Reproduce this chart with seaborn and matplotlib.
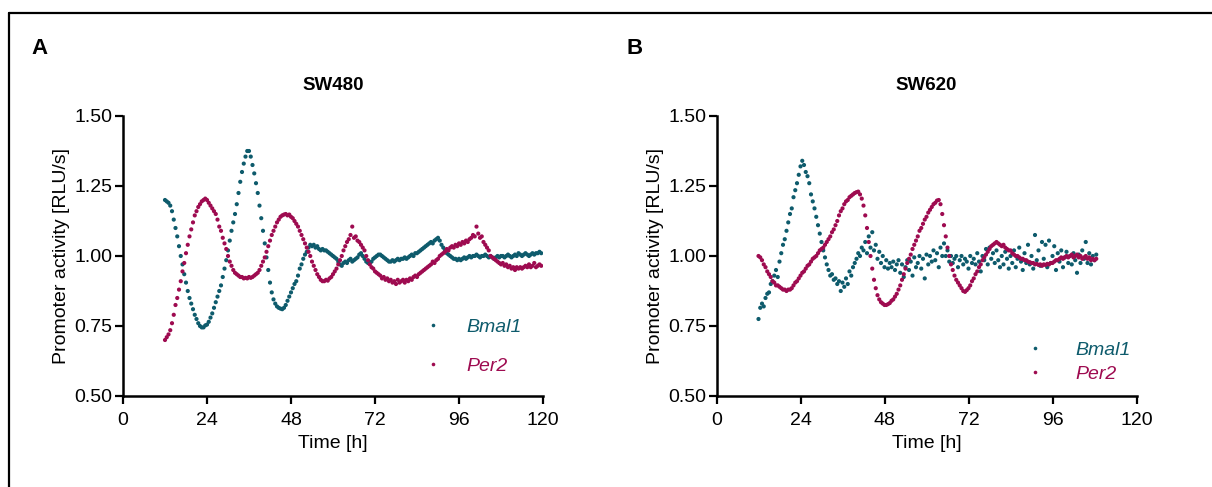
import numpy as np
import pandas as pd
import matplotlib
matplotlib.use("Agg")
import matplotlib.pyplot as plt
from matplotlib.lines import Line2D
import seaborn as sns

# ---------------- data ----------------
step = 0.5
time_a = np.arange(12.0, 119.75, step)   # SW480 sampling grid (h)
time_b = np.arange(12.0, 108.75, step)   # SW620 sampling grid (h)

bmal1_sw480 = [
    1.20, 1.195, 1.19, 1.18, 1.16, 1.13, 1.10, 1.07, 1.035, 1.00,
    0.97, 0.935, 0.905, 0.875, 0.85, 0.83, 0.81, 0.79, 0.775, 0.76,
    0.75, 0.745, 0.745, 0.752, 0.755, 0.765, 0.78, 0.795, 0.815, 0.835,
    0.855, 0.875, 0.895, 0.925, 0.955, 0.985, 1.02, 1.055, 1.09, 1.12,
    1.15, 1.185, 1.225, 1.265, 1.30, 1.33, 1.355, 1.375, 1.375, 1.355,
    1.325, 1.295, 1.26, 1.225, 1.18, 1.135, 1.09, 1.045, 0.995, 0.95,
    0.905, 0.87, 0.845, 0.83, 0.82, 0.815, 0.812, 0.81, 0.815, 0.825,
    0.84, 0.855, 0.87, 0.885, 0.90, 0.91, 0.93, 0.955, 0.97, 0.99,
    1.005, 1.015, 1.03, 1.04, 1.035, 1.04, 1.03, 1.035, 1.025, 1.02,
    1.025, 1.02, 1.02, 1.015, 1.01, 1.005, 1.0, 0.995, 0.99, 0.98,
    0.97, 0.965, 0.975, 0.98, 0.975, 0.985, 0.99, 0.98, 0.985, 0.99,
    0.995, 1.005, 1.01, 1.0, 0.99, 0.98, 0.975, 0.975, 0.98, 0.99,
    0.995, 1.0, 1.005, 1.005, 1.0, 0.995, 0.99, 0.985, 0.98, 0.98,
    0.985, 0.98, 0.985, 0.99, 0.985, 0.99, 0.99, 0.995, 0.99, 0.995,
    1.0, 1.005, 1.0, 1.01, 1.01, 1.015, 1.02, 1.025, 1.03, 1.035,
    1.04, 1.045, 1.05, 1.045, 1.055, 1.06, 1.065, 1.055, 1.04, 1.03,
    1.02, 1.01, 1.005, 1.0, 0.995, 0.99, 0.99, 0.985, 0.99, 0.985,
    0.99, 0.995, 0.99, 0.995, 1.0, 0.995, 1.0, 1.0, 1.005, 1.0,
    0.995, 1.0, 1.0, 1.005, 1.0, 0.995, 1.0, 0.995, 0.99, 0.995,
    1.0, 0.995, 1.0, 1.0, 0.995, 1.0, 1.005, 1.0, 0.995, 1.0,
    1.005, 1.0, 1.01, 1.005, 1.0, 1.005, 1.01, 1.005, 1.0, 1.005,
    1.01, 1.005, 1.01, 1.01, 1.015, 1.01,
]

per2_sw480 = [
    0.70, 0.71, 0.72, 0.735, 0.76, 0.79, 0.825, 0.85, 0.88, 0.91,
    0.945, 0.975, 1.01, 1.04, 1.07, 1.095, 1.12, 1.145, 1.16, 1.175,
    1.185, 1.195, 1.20, 1.205, 1.20, 1.19, 1.18, 1.17, 1.16, 1.15,
    1.13, 1.105, 1.09, 1.065, 1.045, 1.025, 1.0, 0.98, 0.965, 0.95,
    0.94, 0.935, 0.93, 0.925, 0.925, 0.92, 0.922, 0.92, 0.925, 0.922,
    0.925, 0.93, 0.935, 0.94, 0.95, 0.965, 0.98, 0.995, 1.015, 1.035,
    1.055, 1.075, 1.09, 1.105, 1.12, 1.13, 1.14, 1.145, 1.148, 1.15,
    1.145, 1.148, 1.14, 1.135, 1.125, 1.115, 1.105, 1.09, 1.075, 1.06,
    1.045, 1.03, 1.015, 1.0, 0.98, 0.965, 0.95, 0.935, 0.925, 0.915,
    0.91, 0.91, 0.915, 0.912, 0.92, 0.925, 0.935, 0.945, 0.955, 0.97,
    0.985, 1.0, 1.02, 1.035, 1.05, 1.06, 1.075, 1.105, 1.065, 1.07,
    1.055, 1.05, 1.04, 1.03, 1.02, 1.0, 0.985, 0.97, 0.96, 0.955,
    0.945, 0.94, 0.935, 0.93, 0.92, 0.925, 0.915, 0.92, 0.91, 0.915,
    0.905, 0.91, 0.90, 0.915, 0.905, 0.91, 0.915, 0.905, 0.915, 0.91,
    0.92, 0.915, 0.925, 0.93, 0.925, 0.935, 0.94, 0.945, 0.95, 0.955,
    0.96, 0.965, 0.97, 0.98, 0.975, 0.985, 0.99, 1.0, 1.005, 1.01,
    1.015, 1.025, 1.02, 1.03, 1.035, 1.03, 1.04, 1.035, 1.045, 1.04,
    1.05, 1.045, 1.055, 1.05, 1.06, 1.065, 1.075, 1.07, 1.105, 1.08,
    1.065, 1.07, 1.05, 1.04, 1.03, 1.02, 1.0, 0.995, 0.99, 0.985,
    0.98, 0.975, 0.97, 0.975, 0.965, 0.97, 0.96, 0.965, 0.955, 0.96,
    0.95, 0.96, 0.955, 0.96, 0.955, 0.96, 0.965, 0.96, 0.97, 0.96,
    0.965, 0.975, 0.96, 0.965, 0.97, 0.965,
]

bmal1_sw620 = [
    0.775, 0.815, 0.83, 0.82, 0.85, 0.865, 0.87, 0.90, 0.91, 0.93,
    0.95, 0.925, 0.98, 1.01, 1.04, 1.06, 1.09, 1.12, 1.15, 1.17,
    1.21, 1.235, 1.26, 1.29, 1.32, 1.34, 1.325, 1.30, 1.285, 1.26,
    1.22, 1.195, 1.17, 1.14, 1.11, 1.08, 1.05, 1.02, 0.995, 0.97,
    0.95, 0.93, 0.935, 0.915, 0.92, 0.90, 0.91, 0.875, 0.905, 0.89,
    0.92, 0.90, 0.945, 0.93, 0.96, 0.975, 0.99, 1.01, 1.0, 1.03,
    1.02, 1.05, 1.01, 1.07, 1.03, 1.085, 1.02, 1.04, 0.99, 1.015,
    0.975, 1.0, 0.96, 0.985, 0.955, 0.975, 0.96, 0.98, 0.95, 0.97,
    0.985, 0.94, 0.97, 0.925, 0.96, 0.985, 0.95, 0.98, 0.93, 0.995,
    0.96, 0.975, 1.0, 0.955, 0.99, 0.92, 1.005, 0.97, 1.0, 0.98,
    1.02, 0.985, 1.01, 0.96, 1.03, 1.0, 1.045, 1.0, 1.02, 0.98,
    1.0, 0.975, 0.99, 1.0, 0.96, 0.985, 1.0, 0.97, 0.99, 0.98,
    0.955, 1.0, 0.975, 0.99, 0.97, 1.01, 0.98, 0.945, 1.0, 0.985,
    1.025, 0.97, 1.03, 0.99, 1.01, 0.975, 1.02, 0.985, 0.96, 1.0,
    0.97, 1.015, 0.99, 0.955, 1.0, 0.975, 1.02, 0.96, 0.99, 1.03,
    0.98, 0.95, 1.01, 0.975, 1.04, 0.97, 1.0, 0.955, 1.075, 0.985,
    1.02, 0.965, 1.05, 0.99, 1.04, 0.96, 1.055, 0.975, 1.0, 1.035,
    0.95, 1.01, 0.98, 1.02, 0.96, 0.995, 1.015, 0.975, 1.0, 0.97,
    1.01, 0.985, 0.94, 1.005, 0.975, 1.02, 0.99, 1.05, 0.975, 1.01,
    0.97, 1.0, 0.985, 1.005,
]

per2_sw620 = [
    1.0, 0.995, 0.985, 0.97, 0.96, 0.945, 0.935, 0.925, 0.91, 0.905,
    0.895, 0.895, 0.89, 0.885, 0.88, 0.88, 0.875, 0.88, 0.88, 0.885,
    0.895, 0.905, 0.91, 0.92, 0.93, 0.94, 0.945, 0.955, 0.965, 0.97,
    0.98, 0.99, 0.995, 1.0, 1.01, 1.02, 1.025, 1.03, 1.04, 1.05,
    1.06, 1.07, 1.085, 1.095, 1.11, 1.125, 1.145, 1.16, 1.17, 1.185,
    1.195, 1.20, 1.21, 1.215, 1.22, 1.225, 1.228, 1.23, 1.22, 1.205,
    1.18, 1.145, 1.10, 1.05, 1.0, 0.955, 0.915, 0.885, 0.86, 0.845,
    0.835, 0.83, 0.825, 0.825, 0.828, 0.832, 0.84, 0.845, 0.855, 0.865,
    0.88, 0.895, 0.915, 0.935, 0.955, 0.975, 0.99, 1.005, 1.025, 1.04,
    1.055, 1.07, 1.09, 1.10, 1.115, 1.13, 1.14, 1.155, 1.165, 1.175,
    1.185, 1.19, 1.198, 1.20, 1.185, 1.15, 1.11, 1.07, 1.03, 1.0,
    0.97, 0.95, 0.93, 0.915, 0.905, 0.895, 0.885, 0.875, 0.872, 0.878,
    0.885, 0.895, 0.91, 0.92, 0.935, 0.945, 0.96, 0.97, 0.985, 0.995,
    1.005, 1.015, 1.025, 1.035, 1.04, 1.045, 1.05, 1.045, 1.04, 1.035,
    1.04, 1.03, 1.025, 1.02, 1.02, 1.01, 1.005, 1.0, 1.0, 0.995,
    0.99, 0.99, 0.985, 0.985, 0.98, 0.978, 0.975, 0.975, 0.97, 0.972,
    0.968, 0.97, 0.965, 0.97, 0.968, 0.972, 0.97, 0.975, 0.975, 0.98,
    0.985, 0.985, 0.99, 0.995, 0.99, 0.995, 1.0, 0.995, 1.0, 1.005,
    0.995, 1.0, 1.005, 0.995, 1.0, 0.99, 0.995, 1.0, 0.99, 0.995,
    0.985, 0.99, 0.985, 0.99,
]

genes = ["Bmal1", "Per2"]
panels = ["SW480", "SW620"]
panel_letters = ["A", "B"]
x_ticks = [0, 24, 48, 72, 96, 120]
y_ticks = [0.50, 0.75, 1.00, 1.25, 1.50]

TEAL = "#0e5b6c"
MAGENTA = "#9e0b50"
palette = {"Bmal1": TEAL, "Per2": MAGENTA}

# ---------------- style ----------------
sns.set_style("ticks")
plt.rcParams["font.family"] = ["Liberation Sans", "DejaVu Sans"]
plt.rcParams["text.color"] = "black"
plt.rcParams["axes.labelcolor"] = "black"

W, H = 1212, 487
fig = plt.figure(figsize=(W / 100, H / 100), dpi=100)


def frac_x(px):
    return px / W


def frac_y(py):
    return 1 - py / H


def build_df(t, b, p):
    return pd.concat([
        pd.DataFrame({"Time": t, "Value": b, "Gene": "Bmal1"}),
        pd.DataFrame({"Time": t, "Value": p, "Gene": "Per2"}),
    ], ignore_index=True)


dfs = [build_df(time_a, bmal1_sw480, per2_sw480),
       build_df(time_b, bmal1_sw620, per2_sw620)]

FS = 14
ax_lefts = [123, 716.5]
ax_w = 420
ax_top, ax_bottom = 116, 396
legend_cfg = [
    dict(anchor=(0.692, 0.177), spacing=1.1, pad=1.1),
    dict(anchor=(0.712, 0.121), spacing=0.33, pad=1.46),
]

for i, (df, name) in enumerate(zip(dfs, panels)):
    ax = fig.add_axes([frac_x(ax_lefts[i]), frac_y(ax_bottom),
                       ax_w / W, (ax_bottom - ax_top) / H])
    sns.scatterplot(data=df, x="Time", y="Value", hue="Gene",
                    palette=palette, s=9, linewidth=0, edgecolor="none",
                    ax=ax, legend=False, zorder=3)
    ax.set_xlim(0, 120)
    ax.set_ylim(0.5, 1.5)
    ax.set_xticks(x_ticks)
    ax.set_yticks(y_ticks)
    ax.set_yticklabels([f"{v:.2f}" for v in y_ticks])
    ax.tick_params(axis="both", labelsize=FS, width=1.6, length=5.5,
                   color="black", labelcolor="black")
    ax.tick_params(axis="x", pad=6)
    ax.tick_params(axis="y", pad=2)
    for sp in ["top", "right"]:
        ax.spines[sp].set_visible(False)
    for sp in ["left", "bottom"]:
        ax.spines[sp].set_linewidth(1.8)
        ax.spines[sp].set_color("black")
    ax.set_xlabel("Time [h]", fontsize=FS, labelpad=4, color="black")
    ax.set_ylabel("Promoter activity [RLU/s]", fontsize=FS, labelpad=3,
                  color="black")
    ax.set_title(name, fontsize=13.5, fontweight="bold", pad=19,
                 color="black")

    handles = [Line2D([], [], marker="o", linestyle="none", markersize=2.6,
                      markerfacecolor=palette[g], markeredgecolor="none")
               for g in genes]
    leg = ax.legend(handles, genes, loc="center left",
                    bbox_to_anchor=legend_cfg[i]["anchor"], frameon=False,
                    handletextpad=legend_cfg[i]["pad"],
                    labelspacing=legend_cfg[i]["spacing"],
                    fontsize=FS, borderaxespad=0, handlelength=1.2)
    for txt, g in zip(leg.get_texts(), genes):
        txt.set_color(palette[g])
        txt.set_fontstyle("italic")

    fig.text(frac_x([31, 626][i]), frac_y(48), panel_letters[i],
             fontsize=16, fontweight="bold", va="center", ha="left",
             color="black")

# outer frame (left and top edges)
fig.add_artist(Line2D([frac_x(9), frac_x(9)], [0, frac_y(13)],
                      color="black", linewidth=1.6))
fig.add_artist(Line2D([frac_x(9), 1], [frac_y(13), frac_y(13)],
                      color="black", linewidth=1.6))

fig.savefig("out.png", dpi=100)
